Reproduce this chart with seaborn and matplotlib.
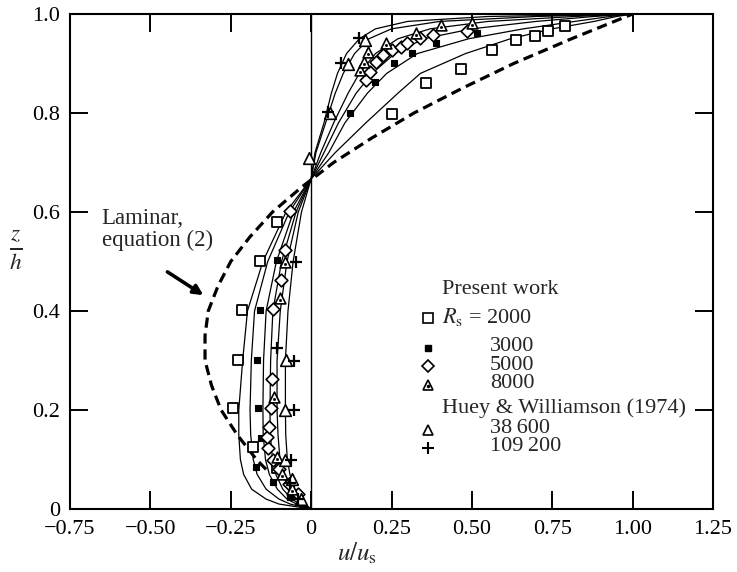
import numpy as np
import pandas as pd
import matplotlib
matplotlib.use("Agg")
import matplotlib.pyplot as plt
from matplotlib.lines import Line2D
import seaborn as sns

# ---------------- data ----------------
# common z/h grid for the solid model curves
z_grid = [0, 0.01, 0.02, 0.04, 0.07, 0.1, 0.15, 0.2, 0.3, 0.4, 0.5, 0.6, 0.667,
          0.72, 0.78, 0.84, 0.88, 0.92, 0.95, 0.97, 0.985, 0.995, 1.0]
curve_2000 = [0, -0.10, -0.14, -0.185, -0.21, -0.22, -0.225, -0.225, -0.213, -0.198, -0.150, -0.078, 0,
              0.075, 0.17, 0.27, 0.34, 0.48, 0.62, 0.75, 0.88, 0.95, 1.0]
curve_3000 = [0, -0.065, -0.10, -0.14, -0.168, -0.18, -0.188, -0.19, -0.186, -0.176, -0.135, -0.068, 0,
              0.055, 0.105, 0.175, 0.235, 0.33, 0.49, 0.66, 0.82, 0.93, 1.0]
curve_5000 = [0, -0.045, -0.075, -0.105, -0.13, -0.142, -0.149, -0.15, -0.148, -0.14, -0.108, -0.055, 0,
              0.04, 0.085, 0.14, 0.19, 0.26, 0.35, 0.50, 0.70, 0.88, 1.0]
curve_8000 = [0, -0.035, -0.06, -0.088, -0.11, -0.12, -0.127, -0.128, -0.126, -0.119, -0.092, -0.047, 0,
              0.03, 0.07, 0.115, 0.15, 0.20, 0.27, 0.37, 0.55, 0.82, 1.0]
curve_38600 = [0, -0.025, -0.045, -0.07, -0.088, -0.097, -0.103, -0.106, -0.106, -0.096, -0.075, -0.04, 0,
               0.015, 0.045, 0.075, 0.10, 0.135, 0.18, 0.25, 0.40, 0.70, 1.0]
curve_109200 = [0, -0.018, -0.033, -0.052, -0.066, -0.074, -0.079, -0.08, -0.08, -0.072, -0.056, -0.03, 0,
                0.012, 0.04, 0.063, 0.082, 0.11, 0.15, 0.20, 0.30, 0.55, 1.0]

# laminar profile, equation (2) (dashed)
lam_z = [0.08, 0.1, 0.15, 0.2, 0.25, 0.3, 0.35, 0.4, 0.45, 0.5, 0.55, 0.6, 0.65, 0.7,
         0.75, 0.8, 0.85, 0.9, 0.95, 1.0]
lam_u = [-0.14, -0.17, -0.23, -0.28, -0.31, -0.33, -0.33, -0.32, -0.29, -0.25, -0.19, -0.12, -0.03, 0.07,
         0.19, 0.32, 0.47, 0.63, 0.81, 1.0]

# measured points
sq_u = [-0.106, -0.18, -0.244, -0.228, -0.216, -0.16, -0.106, 0.253, 0.356, 0.466, 0.563, 0.637, 0.697, 0.738, 0.79]
sq_z = [0.083, 0.125, 0.204, 0.301, 0.402, 0.501, 0.58, 0.798, 0.861, 0.889, 0.927, 0.947, 0.956, 0.966, 0.976]

fs_u = [-0.066, -0.119, -0.17, -0.156, -0.166, -0.169, -0.16, -0.106, 0.121, 0.2, 0.259, 0.313, 0.387, 0.516]
fs_z = [0.024, 0.055, 0.085, 0.143, 0.204, 0.301, 0.402, 0.503, 0.80, 0.862, 0.901, 0.921, 0.941, 0.962]

di_u = [-0.04, -0.07, -0.10, -0.12, -0.135, -0.137, -0.131, -0.125, -0.122, -0.119, -0.094, -0.081, -0.066,
        0.172, 0.184, 0.203, 0.225, 0.25, 0.278, 0.297, 0.34, 0.38, 0.484]
di_z = [0.03, 0.05, 0.08, 0.10, 0.123, 0.145, 0.166, 0.204, 0.263, 0.404, 0.463, 0.523, 0.602,
        0.867, 0.883, 0.903, 0.917, 0.927, 0.933, 0.941, 0.952, 0.958, 0.966]

td_u = [-0.06, -0.09, -0.106, -0.116, -0.097, -0.081, 0.153, 0.163, 0.178, 0.234, 0.325, 0.403, 0.50]
td_z = [0.04, 0.07, 0.105, 0.226, 0.426, 0.499, 0.887, 0.903, 0.923, 0.941, 0.962, 0.978, 0.982]

tr_u = [-0.03, -0.06, -0.081, -0.081, -0.078, -0.006, 0.059, 0.116, 0.169]
tr_z = [0.02, 0.06, 0.099, 0.2, 0.301, 0.709, 0.80, 0.899, 0.947]

pl_u = [-0.04, -0.066, -0.063, -0.053, -0.053, -0.106, -0.047, 0.053, 0.094, 0.15]
pl_z = [0.02, 0.053, 0.099, 0.2, 0.299, 0.325, 0.499, 0.802, 0.901, 0.952]

x_ticks = [-0.75, -0.50, -0.25, 0, 0.25, 0.50, 0.75, 1.00, 1.25]
x_labels = ["\u22120.75", "\u22120.50", "\u22120.25", "0", "0.25", "0.50", "0.75", "1.00", "1.25"]
y_ticks = [0, 0.2, 0.4, 0.6, 0.8, 1.0]
y_labels = ["0", "0.2", "0.4", "0.6", "0.8", "1.0"]

legend_labels = ["Present work", r"$R_\mathrm{s}$ = 2000", "3000", "5000", "8000",
                 "Huey & Williamson (1974)", "38\u2009600", "109\u2009200"]

# ---------------- style ----------------
sns.set_theme(style="ticks")
plt.rcParams["font.family"] = ["Liberation Serif", "DejaVu Serif"]
plt.rcParams["mathtext.fontset"] = "stix"

FS = 16
fig = plt.figure(figsize=(7.37, 5.72), dpi=100)
ax = fig.add_axes([70 / 737, 1 - 509 / 572, 643 / 737, 495 / 572])

curves = {"2000": curve_2000, "3000": curve_3000, "5000": curve_5000,
          "8000": curve_8000, "38600": curve_38600, "109200": curve_109200}
rows = []
for name, us in curves.items():
    for i, (u, z) in enumerate(zip(us, z_grid)):
        rows.append({"u": u, "z": z, "curve": name, "i": i})
df_c = pd.DataFrame(rows)
for name in curves:
    d = df_c[df_c.curve == name]
    sns.lineplot(data=d, x="u", y="z", sort=False, estimator=None, color="black",
                 lw=0.9, ax=ax, legend=False)

df_lam = pd.DataFrame({"u": lam_u, "z": lam_z})
sns.lineplot(data=df_lam, x="u", y="z", sort=False, estimator=None, color="black",
             lw=2.3, ls=(0, (3.2, 1.8)), ax=ax, legend=False)

ax.axvline(0, color="black", lw=1.0, zorder=1)

sns.scatterplot(x=sq_u, y=sq_z, marker="s", s=55, facecolors="white", edgecolor="black",
                linewidth=1.3, ax=ax, zorder=3)
sns.scatterplot(x=fs_u, y=fs_z, marker="s", s=18, color="black", edgecolor="black",
                linewidth=0.8, ax=ax, zorder=3)
sns.scatterplot(x=di_u, y=di_z, marker="D", s=42, facecolors="white", edgecolor="black",
                linewidth=1.2, ax=ax, zorder=3)
sns.scatterplot(x=td_u, y=td_z, marker="^", s=60, facecolors="white", edgecolor="black",
                linewidth=1.2, ax=ax, zorder=3)
sns.scatterplot(x=td_u, y=np.array(td_z) - 0.004, marker="o", s=4, color="black",
                edgecolor="black", ax=ax, zorder=4)
sns.scatterplot(x=tr_u, y=tr_z, marker="^", s=70, facecolors="white", edgecolor="black",
                linewidth=1.2, ax=ax, zorder=3)
sns.scatterplot(x=pl_u, y=pl_z, marker="+", s=70, color="black", linewidth=1.6,
                ax=ax, zorder=3)

# axes formatting
ax.set_xlim(-0.75, 1.25)
ax.set_ylim(0, 1.0)
ax.set_xticks(x_ticks)
ax.set_xticklabels(x_labels, fontsize=FS)
ax.set_yticks(y_ticks)
ax.set_yticklabels(y_labels, fontsize=FS)
ax.tick_params(direction="in", length=13, width=1.4, top=True, right=True,
               color="black", labelcolor="black")
ax.tick_params(axis="x", pad=8)
ax.tick_params(axis="y", pad=7)
for sp in ax.spines.values():
    sp.set_visible(True)
    sp.set_linewidth(1.5)
    sp.set_color("black")
ax.set_xlabel(r"$u/u_\mathrm{s}$", fontsize=18)
ax.xaxis.set_label_coords(0.446, -0.065)
ax.set_ylabel(r"$\frac{z}{h}$", fontsize=24, rotation=0, va="center", ha="center")
ax.yaxis.set_label_coords(-0.085, 0.523)

# annotation
ax.text(-0.652, 0.564, "Laminar,\nequation (2)", fontsize=16.5, ha="left", va="center",
        linespacing=1.05)
ax.annotate("", xy=(-0.335, 0.432), xytext=(-0.447, 0.479),
            arrowprops=dict(arrowstyle="-|>", lw=2.6, color="black", mutation_scale=14,
                            shrinkA=0, shrinkB=0))

# legend (manually laid out, as in the original figure)
row_y = [0.4444, 0.3879, 0.3273, 0.2909, 0.2545, 0.2040, 0.1636, 0.1253]
x_head, x_num, x_mark = 0.5785, 0.6532, 0.5568
marker_styles = [None,
                 dict(marker="s", mfc="white", mec="black", ms=7, mew=1.2),
                 dict(marker="s", mfc="black", mec="black", ms=4.5),
                 dict(marker="D", mfc="white", mec="black", ms=6, mew=1.2),
                 dict(marker="^", mfc="white", mec="black", ms=7, mew=1.2),
                 None,
                 dict(marker="^", mfc="white", mec="black", ms=7, mew=1.2),
                 dict(marker="+", mec="black", ms=8, mew=1.5)]
for k, (lab, yy, mk) in enumerate(zip(legend_labels, row_y, marker_styles)):
    xx = x_head if k in (0, 1, 5) else x_num
    ax.text(xx, yy, lab, transform=ax.transAxes, fontsize=FS, ha="left", va="center")
    if mk is not None:
        ax.add_line(Line2D([x_mark], [yy - 0.003], transform=ax.transAxes, ls="none", **mk))
ax.add_line(Line2D([x_mark], [row_y[4] - 0.006], transform=ax.transAxes, ls="none",
                   marker="o", ms=1.5, mfc="black", mec="black"))

fig.savefig("out.png", dpi=100)
